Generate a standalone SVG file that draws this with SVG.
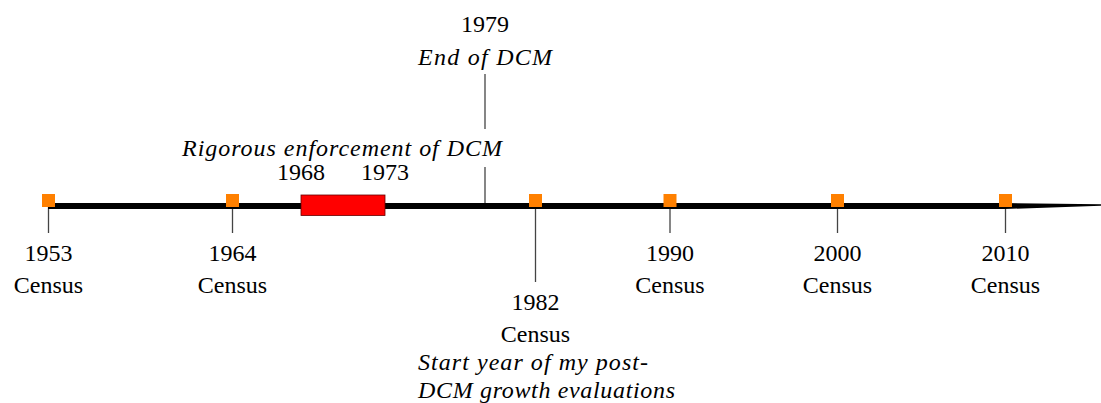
<svg xmlns="http://www.w3.org/2000/svg" width="1101" height="403" viewBox="0 0 1101 403">
<style>
text{font-family:'Liberation Serif','DejaVu Serif',serif;font-size:24px;fill:#000;text-anchor:middle}
.it{font-style:italic}
.st{text-anchor:start}
.tick{stroke:#444;stroke-width:1.3;fill:none}
.sq{fill:#ff8000}
</style>
<rect width="1101" height="403" fill="#fff"/>
<g id="connectors">
<line class="tick" x1="48.5" y1="207" x2="48.5" y2="233"/>
<line class="tick" x1="232.5" y1="207" x2="232.5" y2="233"/>
<line class="tick" x1="535.5" y1="207" x2="535.5" y2="282"/>
<line class="tick" x1="670" y1="207" x2="670" y2="233"/>
<line class="tick" x1="837.5" y1="207" x2="837.5" y2="233"/>
<line class="tick" x1="1005.5" y1="207" x2="1005.5" y2="233"/>
<line class="tick" x1="485" y1="167" x2="485" y2="206"/>
<line class="tick" x1="485" y1="74" x2="485" y2="129"/>
</g>
<g id="axis">
<rect x="48" y="203" width="958" height="6" fill="#000"/>
<path d="M1005,203 L1101,204.3 L1101,205.8 L1005,209 Z" fill="#000"/>
</g>
<g id="dcm-period" font-family="Liberation Serif, serif">
<rect x="301" y="195" width="84" height="20.5" fill="#ff0000" stroke="#600" stroke-width="0.8"/>
<text x="301" y="180">1968</text>
<text x="385" y="180">1973</text>
<text class="it" x="342" y="156" textLength="320" lengthAdjust="spacing">Rigorous enforcement of DCM</text>
</g>
<g id="end-dcm">
<text x="485" y="32">1979</text>
<text class="it" x="485" y="65" textLength="134" lengthAdjust="spacing">End of DCM</text>
</g>
<g id="c1953">
<rect class="sq" x="42" y="194" width="13" height="13"/>
<text x="48.5" y="261">1953</text>
<text x="48.5" y="293">Census</text>
</g>
<g id="c1964">
<rect class="sq" x="226" y="194" width="13" height="13"/>
<text x="232.5" y="261">1964</text>
<text x="232.5" y="293">Census</text>
</g>
<g id="c1982">
<rect class="sq" x="529" y="194" width="13" height="13"/>
<text x="535.5" y="310">1982</text>
<text x="535.5" y="342">Census</text>
<text class="it st" x="418" y="370" textLength="230" lengthAdjust="spacing">Start year of my post-</text>
<text class="it st" x="418" y="398" textLength="257" lengthAdjust="spacing">DCM growth evaluations</text>
</g>
<g id="c1990">
<rect class="sq" x="663.5" y="194" width="13" height="13"/>
<text x="670" y="261">1990</text>
<text x="670" y="293">Census</text>
</g>
<g id="c2000">
<rect class="sq" x="831" y="194" width="13" height="13"/>
<text x="837.5" y="261">2000</text>
<text x="837.5" y="293">Census</text>
</g>
<g id="c2010">
<rect class="sq" x="999" y="194" width="13" height="13"/>
<text x="1005.5" y="261">2010</text>
<text x="1005.5" y="293">Census</text>
</g>
</svg>
